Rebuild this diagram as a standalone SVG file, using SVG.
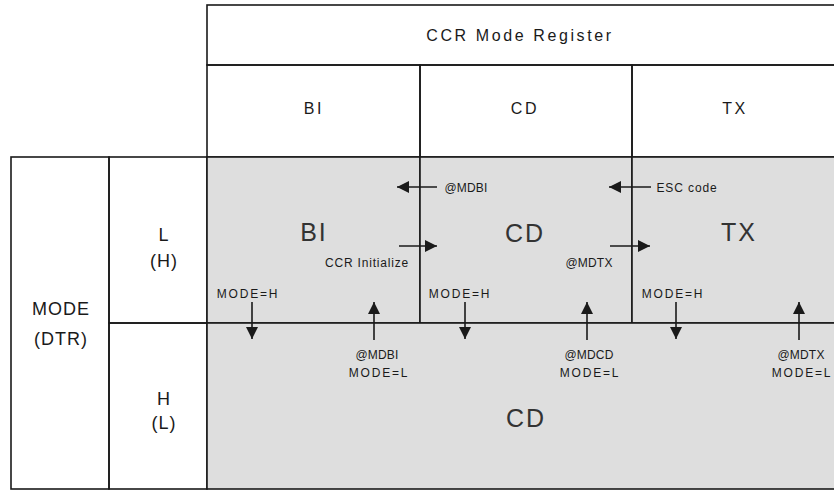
<svg xmlns="http://www.w3.org/2000/svg" width="834" height="490" viewBox="0 0 834 490">
<style>
.ln{stroke:#1a1a1a;stroke-width:1.6;fill:none}
.gray{fill:#dedede}
.t{font-family:"Liberation Sans",Arial,sans-serif;fill:#1a1a1a;text-anchor:middle}
.hd{font-size:16px;letter-spacing:2.6px}
.big{font-size:25px;letter-spacing:2px;fill:#333}
.side{font-size:18px;letter-spacing:1px}
.sm{font-size:12px;letter-spacing:1.8px}
.lb{font-size:12px;letter-spacing:0.2px}
.arr{stroke:#1a1a1a;stroke-width:1.6;fill:none;marker-end:url(#ah)}
</style>
<defs>
<marker id="ah" markerUnits="userSpaceOnUse" markerWidth="12" markerHeight="12" refX="12" refY="6" orient="auto">
<path d="M0,0 L12,6 L0,12 z" fill="#1a1a1a"/>
</marker>
</defs>
<rect x="0" y="0" width="834" height="490" fill="#ffffff"/>
<g id="header">
<rect class="ln" x="207" y="5" width="640" height="60"/>
<text class="t hd" x="520" y="41">CCR Mode Register</text>
</g>
<g id="col-BI">
<rect class="ln" x="207" y="65" width="213" height="92"/>
<text class="t hd" x="314" y="114">BI</text>
</g>
<g id="col-CD">
<rect class="ln" x="420" y="65" width="212" height="92"/>
<text class="t hd" x="525" y="114">CD</text>
</g>
<g id="col-TX">
<rect class="ln" x="632" y="65" width="215" height="92"/>
<text class="t hd" x="735" y="114">TX</text>
</g>
<g id="row-mode">
<rect class="ln" x="11" y="157" width="98" height="332"/>
<text class="t side" x="61" y="315">MODE</text>
<text class="t side" x="61" y="345">(DTR)</text>
</g>
<g id="row-L">
<rect class="ln" x="109" y="157" width="98" height="166"/>
<text class="t side" x="164" y="241">L</text>
<text class="t side" x="164" y="267">(H)</text>
</g>
<g id="row-H">
<rect class="ln" x="109" y="323" width="98" height="166"/>
<text class="t side" x="164" y="405">H</text>
<text class="t side" x="164" y="429">(L)</text>
</g>
<g id="state-BI">
<rect class="gray" x="207" y="157" width="213" height="166"/>
<rect class="ln" x="207" y="157" width="213" height="166"/>
<text class="t big" x="314" y="241">BI</text>
</g>
<g id="state-CD">
<rect class="gray" x="420" y="157" width="212" height="166"/>
<rect class="ln" x="420" y="157" width="212" height="166"/>
<text class="t big" x="525" y="242">CD</text>
</g>
<g id="state-TX">
<rect class="gray" x="632" y="157" width="215" height="166"/>
<rect class="ln" x="632" y="157" width="215" height="166"/>
<text class="t big" x="739" y="241">TX</text>
</g>
<g id="state-CD-H">
<rect class="gray" x="207" y="323" width="640" height="166"/>
<rect class="ln" x="207" y="323" width="640" height="166"/>
<text class="t big" x="526" y="427">CD</text>
</g>
<g id="connectors">
<line class="arr" x1="437" y1="187" x2="397" y2="187"/>
<line class="arr" x1="651" y1="187" x2="609" y2="187"/>
<line class="arr" x1="399" y1="246" x2="437" y2="246"/>
<line class="arr" x1="610" y1="246" x2="650" y2="246"/>
<line class="arr" x1="252" y1="302" x2="252" y2="339"/>
<line class="arr" x1="465" y1="302" x2="465" y2="339"/>
<line class="arr" x1="676" y1="302" x2="676" y2="339"/>
<line class="arr" x1="374" y1="340" x2="374" y2="302"/>
<line class="arr" x1="587" y1="340" x2="587" y2="302"/>
<line class="arr" x1="799" y1="340" x2="799" y2="302"/>
<text class="t lb" x="466" y="192">@MDBI</text>
<text class="t lb" x="687" y="192" style="letter-spacing:0.9px">ESC code</text>
<text class="t lb" x="367" y="267" style="letter-spacing:0.8px">CCR Initialize</text>
<text class="t lb" x="589" y="267">@MDTX</text>
<text class="t sm" x="248" y="298">MODE=H</text>
<text class="t sm" x="460" y="298">MODE=H</text>
<text class="t sm" x="673" y="298">MODE=H</text>
<text class="t lb" x="377" y="359">@MDBI</text>
<text class="t sm" x="379" y="377">MODE=L</text>
<text class="t lb" x="589" y="359">@MDCD</text>
<text class="t sm" x="590" y="377">MODE=L</text>
<text class="t lb" x="801" y="359">@MDTX</text>
<text class="t sm" x="802" y="377">MODE=L</text>
</g>
</svg>
